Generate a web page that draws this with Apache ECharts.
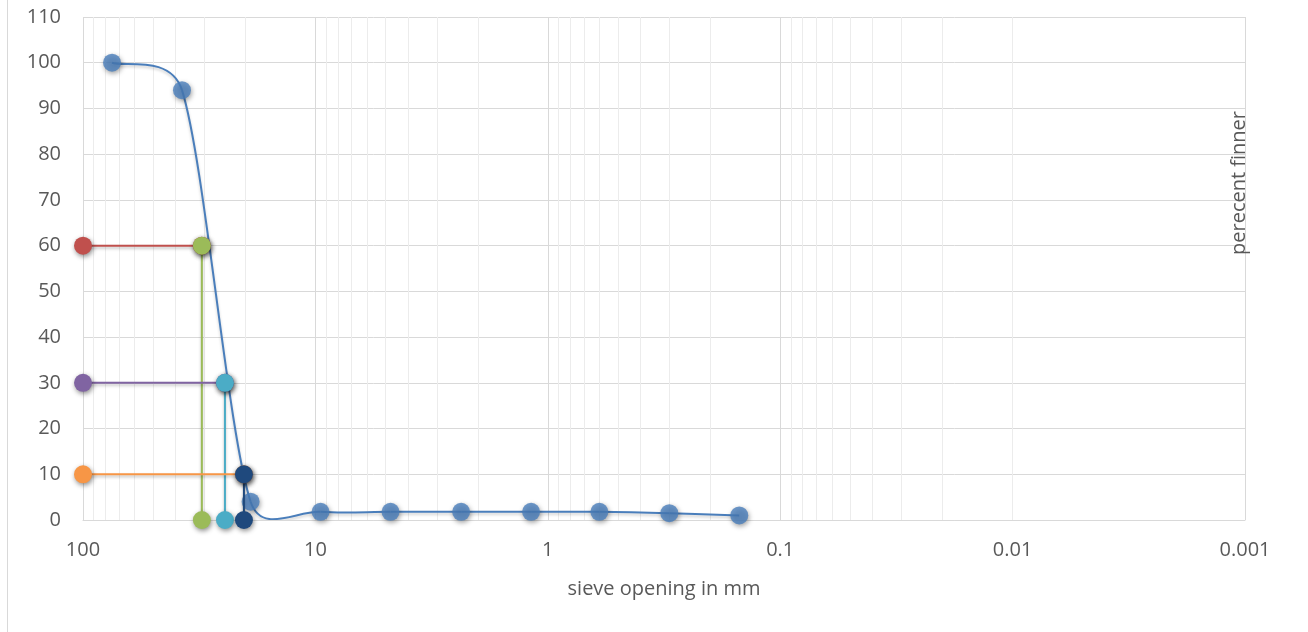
<!DOCTYPE html>
<html>
<head>
<meta charset="utf-8">
<title>Grain size distribution</title>
<script src="https://cdn.jsdelivr.net/npm/echarts@6/dist/echarts.min.js"></script>
<style>
  html, body { margin: 0; padding: 0; background: #ffffff; }
  #chart { width: 1308px; height: 632px; }
</style>
</head>
<body>
<div id="chart"></div>
<script>
// Sieve analysis: opening (mm) against percent finer
const sieveSize    = [75, 37.5, 19, 9.5, 4.75, 2.36, 1.18, 0.6, 0.3, 0.15];
const percentFiner = [100, 94, 4, 1.8, 1.8, 1.8, 1.8, 1.8, 1.5, 1.0];

// Characteristic diameters (mm)
const d60 = 30.8;
const d30 = 24.5;
const d10 = 20.3;
const guideFrom = 100;           // horizontal guides start at the 100 mm edge

const xTickLabels = ['100', '10', '1', '0.1', '0.01', '0.001'];
const yTickLabels = ['0', '10', '20', '30', '40', '50', '60', '70', '80', '90', '100', '110'];

// Minor log gridlines at 2..9 within each decade
const decadeStarts = [0.001, 0.01, 0.1, 1, 10];
const minorSteps = [2, 3, 4, 5, 6, 7, 8, 9];
const minorLines = [];
decadeStarts.forEach(d => minorSteps.forEach(m => minorLines.push({ xAxis: +(d * m).toPrecision(6) })));

const textColor = '#595959';
const fontFamily = '"Open Sans", "Liberation Sans", sans-serif';
const curveColor = '#4a7ebb';

const markerShadow = {
  shadowColor: 'rgba(0,0,0,0.45)',
  shadowBlur: 5,
  shadowOffsetX: 1,
  shadowOffsetY: 2
};

// Cubic Bezier smoothing in pixel space: each control arm is one sixth of the
// chord through the neighbouring points, limited to half of its own segment.
function arm(from, a, b, segLen) {
  let vx = (b[0] - a[0]) / 6, vy = (b[1] - a[1]) / 6;
  const len = Math.hypot(vx, vy);
  const cap = segLen / 2;
  if (len > cap && len > 0) { vx *= cap / len; vy *= cap / len; }
  return [vx, vy];
}

function smoothSegments(pts) {
  const n = pts.length, segs = [];
  for (let i = 0; i < n - 1; i++) {
    const p0 = pts[Math.max(i - 1, 0)], p1 = pts[i], p2 = pts[i + 1], p3 = pts[Math.min(i + 2, n - 1)];
    const segLen = Math.hypot(p2[0] - p1[0], p2[1] - p1[1]);
    const a1 = arm(p1, p0, p2, segLen);
    const a2 = arm(p2, p1, p3, segLen);
    segs.push({
      x1: p1[0], y1: p1[1],
      cpx1: p1[0] + a1[0], cpy1: p1[1] + a1[1],
      cpx2: p2[0] - a2[0], cpy2: p2[1] - a2[1],
      x2: p2[0], y2: p2[1]
    });
  }
  return segs;
}

function guide(name, color, pts) {
  return {
    name: name,
    type: 'line',
    data: pts,
    symbol: 'circle',
    symbolSize: 18,
    lineStyle: { color: color, width: 2, shadowColor: 'rgba(0,0,0,0.25)', shadowBlur: 3, shadowOffsetY: 2 },
    itemStyle: Object.assign({ color: color }, markerShadow),
    emphasis: { disabled: true },
    silent: true,
    z: 4
  };
}

const mainData = sieveSize.map((s, i) => [s, percentFiner[i]]);

const chart = echarts.init(document.getElementById('chart'), null, { renderer: 'canvas' });

chart.setOption({
  animation: false,
  backgroundColor: '#ffffff',
  grid: { left: 83, right: 63, top: 17, bottom: 112, containLabel: false },
  xAxis: {
    type: 'log',
    logBase: 10,
    min: 0.001,
    max: 100,
    inverse: true,
    name: 'sieve opening in mm',
    nameLocation: 'middle',
    nameGap: 59,
    nameTextStyle: { color: textColor, fontSize: 20, fontFamily: fontFamily },
    axisLine: { show: true, lineStyle: { color: '#d9d9d9', width: 1 } },
    axisTick: { show: false },
    axisLabel: {
      color: textColor,
      fontSize: 20,
      fontFamily: fontFamily,
      margin: 20,
      formatter: function (v) {
        const idx = Math.round(2 - Math.log10(v));
        return xTickLabels[idx] !== undefined ? xTickLabels[idx] : '';
      }
    },
    splitLine: { show: true, lineStyle: { color: '#d9d9d9', width: 1 } }
  },
  yAxis: {
    type: 'value',
    min: 0,
    max: 110,
    interval: 10,
    axisLine: { show: false },
    axisTick: { show: false },
    axisLabel: {
      color: textColor,
      fontSize: 20,
      fontFamily: fontFamily,
      margin: 22,
      formatter: function (v) { return yTickLabels[Math.round(v / 10)]; }
    },
    splitLine: { show: true, lineStyle: { color: '#d9d9d9', width: 1 } }
  },
  graphic: [
    {
      type: 'line',
      shape: { x1: 7.5, y1: 0, x2: 7.5, y2: 632 },
      style: { stroke: '#d9d9d9', lineWidth: 1 },
      silent: true
    },
    {
      type: 'text',
      x: 1239,
      y: 183,
      rotation: Math.PI / 2,
      style: {
        text: 'perecent finner',
        fill: textColor,
        fontSize: 20,
        fontFamily: fontFamily,
        textAlign: 'center',
        textVerticalAlign: 'middle'
      },
      silent: true,
      z: 10
    }
  ],
  series: [
    {
      name: 'minor grid',
      type: 'line',
      data: [],
      silent: true,
      z: 0,
      markLine: {
        z: 0,
        silent: true,
        symbol: 'none',
        label: { show: false },
        animation: false,
        lineStyle: { color: '#ececec', type: 'solid', width: 1 },
        emphasis: { disabled: true },
        data: minorLines
      }
    },
    {
      // smoothed grading curve through the sieve points
      name: 'grading curve',
      type: 'custom',
      data: mainData,
      clip: true,
      silent: true,
      z: 2,
      renderItem: function (params, api) {
        if (params.dataIndex !== 0) return null;
        const pts = mainData.map(d => api.coord(d));
        const children = smoothSegments(pts).map(seg => ({
          type: 'bezierCurve',
          shape: seg,
          style: {
            stroke: curveColor, lineWidth: 2, fill: null,
            shadowColor: 'rgba(0,0,0,0.2)', shadowBlur: 3, shadowOffsetY: 2
          }
        }));
        return { type: 'group', children: children };
      }
    },
    {
      name: 'percent finer',
      type: 'scatter',
      data: mainData,
      symbol: 'circle',
      symbolSize: 18,
      itemStyle: Object.assign({ color: curveColor }, markerShadow),
      emphasis: { disabled: true },
      silent: true,
      z: 3
    },
    guide('60 guide', '#c0504d', [[guideFrom, 60], [d60, 60]]),
    guide('D60', '#9bbb59', [[d60, 60], [d60, 0]]),
    guide('30 guide', '#8064a2', [[guideFrom, 30], [d30, 30]]),
    guide('D30', '#4bacc6', [[d30, 30], [d30, 0]]),
    guide('10 guide', '#f79646', [[guideFrom, 10], [d10, 10]]),
    guide('D10', '#1f497d', [[d10, 10], [d10, 0]])
  ]
});
</script>
</body>
</html>
